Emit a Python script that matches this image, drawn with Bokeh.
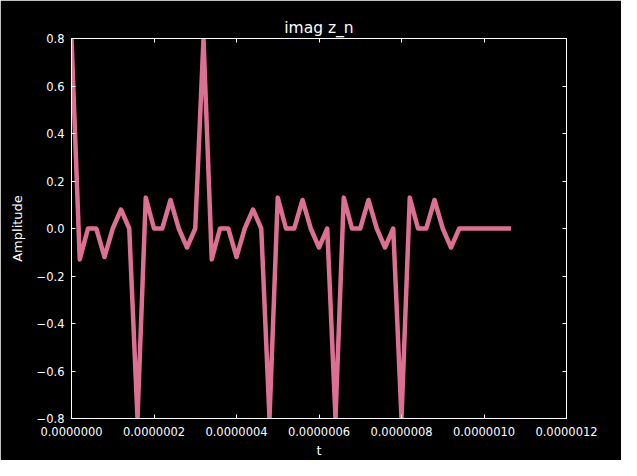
from bokeh.plotting import figure
from bokeh.models import Range1d, FixedTicker, CustomJSTickFormatter, LinearAxis
from bokeh.embed import file_html
from bokeh.resources import INLINE

# sample spacing (s) and imaginary part of z_n
dt = 2e-8
values = [0.8, -0.13, 0.0, 0.0, -0.12, 0.0, 0.08, 0.0,
          -0.8, 0.13, 0.0, 0.0, 0.12, 0.0, -0.08, 0.0,
          0.8, -0.13, 0.0, 0.0, -0.12, 0.0, 0.08, 0.0,
          -0.8, 0.13, 0.0, 0.0, 0.12, 0.0, -0.08, 0.0,
          -0.8, 0.13, 0.0, 0.0, 0.12, 0.0, -0.08, 0.0,
          -0.8, 0.13, 0.0, 0.0, 0.12, 0.0, -0.08, 0.0,
          0.0, 0.0, 0.0, 0.0, 0.0, 0.0]
t = [i * dt for i in range(len(values))]

x_ticks = [0.0, 2e-7, 4e-7, 6e-7, 8e-7, 1e-6, 1.2e-6]
y_ticks = [-0.8, -0.6, -0.4, -0.2, 0.0, 0.2, 0.4, 0.6, 0.8]

FONT = "DejaVu Sans"
W = "#ffffff"

p = figure(width=621, height=460, output_backend="svg", toolbar_location=None,
           x_range=Range1d(0, 1.2e-6), y_range=Range1d(-0.8, 0.8),
           title="imag z_n", min_border_left=71, min_border_right=55,
           min_border_top=38, min_border_bottom=38)

p.background_fill_color = "black"
p.border_fill_color = "black"
p.outline_line_color = W
p.outline_line_width = 1
p.grid.visible = False

p.title.text_color = W
p.title.text_font = FONT
p.title.text_font_size = "15.5px"
p.title.text_font_style = "normal"
p.title.align = "center"
p.title.standoff = 4

p.line(t, values, line_color="#DB7093", line_width=4.5, line_join="round", line_cap="square")

xfmt = CustomJSTickFormatter(code="return tick.toFixed(7);")
yfmt = CustomJSTickFormatter(code="return tick.toFixed(1).replace('-', '\u2212');")

def style(ax, ticks, fmt, show_labels=True):
    ax.ticker = FixedTicker(ticks=ticks)
    ax.formatter = fmt
    ax.axis_line_color = W
    ax.major_tick_line_color = W
    ax.major_tick_in = 4
    ax.major_tick_out = 0
    ax.minor_tick_line_color = None
    ax.major_label_text_font = FONT
    ax.axis_label_text_color = W
    ax.axis_label_text_font = FONT
    ax.axis_label_text_font_style = "normal"
    ax.axis_label_text_font_size = "13px"
    if show_labels:
        ax.major_label_text_color = W
        ax.major_label_text_font_size = "11.5px"
    else:
        ax.major_label_text_color = None
        ax.major_label_text_font_size = "2px"
        ax.major_label_standoff = 0

xa = p.xaxis[0]
style(xa, x_ticks, xfmt)
xa.axis_label = "t"
xa.major_label_standoff = 8
xa.axis_label_standoff = 4

ya = p.yaxis[0]
style(ya, y_ticks, yfmt)
ya.axis_label = "Amplitude"
ya.major_label_standoff = 7
ya.axis_label_standoff = 9

top = LinearAxis()
style(top, x_ticks, xfmt, show_labels=False)
p.add_layout(top, "above")
right = LinearAxis()
style(right, y_ticks, yfmt, show_labels=False)
p.add_layout(right, "right")

html = file_html(p, INLINE)
html = html.replace("<body>", "<body style=\"background:#000000\">", 1)
open("out.html", "w").write(html)
